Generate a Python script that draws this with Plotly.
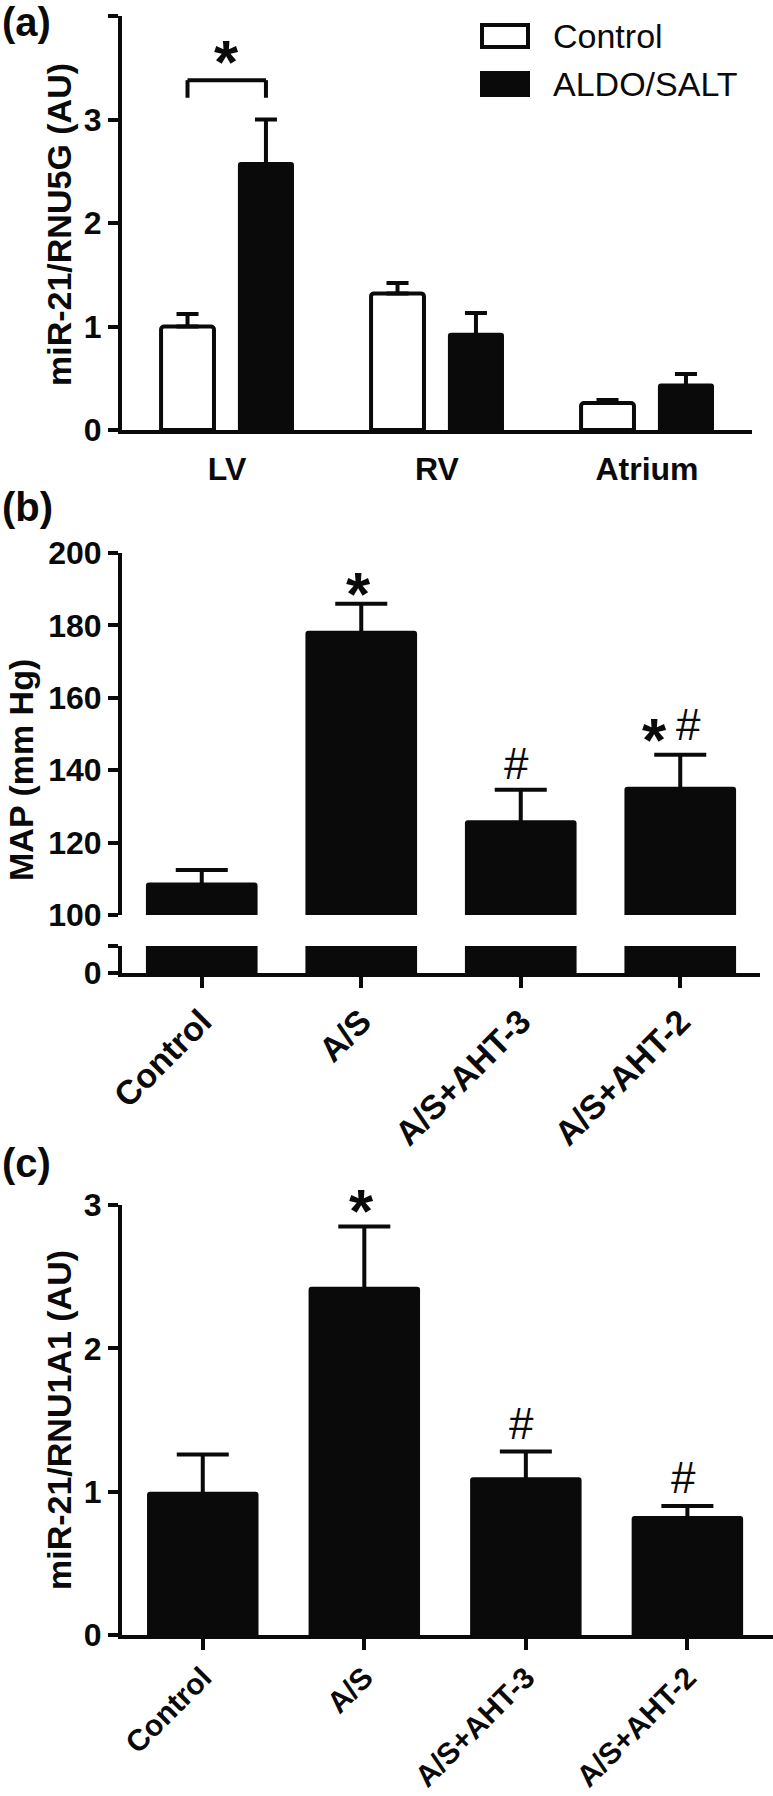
import plotly.graph_objects as go

# ---------------- data ----------------
a_categories = ["LV", "RV", "Atrium"]
a_control = [1.00, 1.32, 0.26]
a_control_err = [0.12, 0.10, 0.03]
a_aldo = [2.59, 0.94, 0.45]
a_aldo_err = [0.41, 0.19, 0.09]

b_categories = ["Control", "A/S", "A/S+AHT-3", "A/S+AHT-2"]
b_map = [109.0, 178.5, 126.2, 135.4]
b_map_err = [3.4, 7.5, 8.4, 8.9]
b_marks = ["", "*", "#", "*#"]

c_categories = ["Control", "A/S", "A/S+AHT-3", "A/S+AHT-2"]
c_mir = [1.00, 2.43, 1.10, 0.83]
c_mir_err = [0.26, 0.42, 0.18, 0.07]
c_marks = ["", "*", "#", "#"]

# ---------------- layout helpers ----------------
W, H = 773, 1796
FONT = "Liberation Sans, Arial, Helvetica, sans-serif"
BLACK = "#0a0a0a"
AXW = 4


def px(x):
    return x / W


def py(y):
    return 1 - y / H


tickfont = dict(family=FONT, size=32, color=BLACK, weight="bold")
catfont = dict(family=FONT, size=32, color=BLACK, weight="bold")
rotfont_b = dict(family=FONT, size=34, color=BLACK, weight="bold")
rotfont_c = dict(family=FONT, size=30, color=BLACK, weight="bold")

fig = go.Figure()

# ---------------- panel (a) ----------------
ctrl_off, ctrl_w = -0.314, 0.252
aldo_off, aldo_w = 0.052, 0.267
fig.add_trace(go.Bar(
    x=a_categories, y=a_control, name="Control", xaxis="x", yaxis="y",
    offset=ctrl_off, width=ctrl_w,
    marker=dict(color="white", line=dict(color=BLACK, width=4), cornerradius=3),
    error_y=dict(type="data", symmetric=False, array=a_control_err,
                 arrayminus=[0] * 3, color=BLACK, thickness=4, width=11),
))
fig.add_trace(go.Bar(
    x=a_categories, y=a_aldo, name="ALDO/SALT", xaxis="x", yaxis="y",
    offset=aldo_off, width=aldo_w,
    marker=dict(color=BLACK, line=dict(width=0), cornerradius=3),
    error_y=dict(type="data", symmetric=True, array=a_aldo_err,
                 color=BLACK, thickness=4, width=11),
))

# ---------------- panel (b) : broken axis ----------------
for xa, ya in (("x2", "y2"), ("x3", "y3")):
    fig.add_trace(go.Bar(
        x=b_categories, y=b_map, xaxis=xa, yaxis=ya, width=0.70,
        marker=dict(color=BLACK, line=dict(width=0), cornerradius=3),
        error_y=dict(type="data", symmetric=True, array=b_map_err,
                     color=BLACK, thickness=4, width=26),
        showlegend=False,
    ))

# ---------------- panel (c) ----------------
fig.add_trace(go.Bar(
    x=c_categories, y=c_mir, xaxis="x4", yaxis="y4", width=0.69,
    marker=dict(color=BLACK, line=dict(width=0), cornerradius=3),
    error_y=dict(type="data", symmetric=True, array=c_mir_err,
                 color=BLACK, thickness=4, width=26),
    showlegend=False,
))

yax_common = dict(showline=True, linewidth=AXW, linecolor=BLACK, ticks="outside",
                  ticklen=10, tickwidth=AXW, tickcolor=BLACK, tickfont=tickfont,
                  showgrid=False, zeroline=False, fixedrange=True)
xax_common = dict(showline=True, linewidth=AXW, linecolor=BLACK, showgrid=False,
                  zeroline=False, fixedrange=True)

fig.update_layout(
    width=W, height=H, margin=dict(l=0, r=0, t=0, b=0, autoexpand=False),
    paper_bgcolor="white", plot_bgcolor="white", showlegend=False,
    barmode="overlay",
    font=dict(family=FONT, color=BLACK),
    # (a)
    xaxis=dict(domain=[px(122), px(752)], anchor="y", range=[-0.5, 2.5],
               ticks="", ticklabelstandoff=8, tickfont=catfont, **xax_common),
    yaxis=dict(domain=[py(430), py(16)], anchor="x", range=[0, 4], dtick=1,
               **yax_common),
    # (b) upper
    xaxis2=dict(domain=[px(122), px(760)], anchor="y2", range=[-0.5, 3.5],
                showline=False, showticklabels=False, ticks="", showgrid=False,
                zeroline=False, fixedrange=True),
    yaxis2=dict(domain=[py(915), py(553)], anchor="x2", range=[100, 200],
                tickvals=[100, 120, 140, 160, 180, 200], **yax_common),
    # (b) lower
    xaxis3=dict(domain=[px(122), px(760)], anchor="y3", range=[-0.5, 3.5],
                ticks="outside", ticklen=11, tickwidth=AXW, tickcolor=BLACK,
                tickangle=-45, tickfont=rotfont_b, **xax_common),
    yaxis3=dict(domain=[py(973), py(946)], anchor="x3", range=[0, 8],
                tickvals=[0, 8], ticktext=["0", ""], **yax_common),
    # (c)
    xaxis4=dict(domain=[px(122), 1.0], anchor="y4", range=[-0.5, 3.53],
                ticks="outside", ticklen=11, tickwidth=AXW, tickcolor=BLACK,
                tickangle=-45, tickfont=rotfont_c, ticklabelstandoff=-2, **xax_common),
    yaxis4=dict(domain=[py(1635), py(1205)], anchor="x4", range=[0, 3], dtick=1,
                **yax_common),
)

ann = []
# panel labels
for lab, yc in (("(a)", 22), ("(b)", 507), ("(c)", 1163)):
    ann.append(dict(text=lab, x=0.0, y=py(yc), xref="paper", yref="paper",
                    xanchor="left", yanchor="middle", showarrow=False,
                    font=dict(family=FONT, size=40, color=BLACK, weight="bold")))
# y-axis titles
for lab, xc, yc in (("miR-21/RNU5G (AU)", 59, 225), ("MAP (mm Hg)", 21, 770),
                    ("miR-21/RNU1A1 (AU)", 59, 1420)):
    ann.append(dict(text=lab, x=px(xc), y=py(yc), xref="paper", yref="paper",
                    xanchor="center", yanchor="middle", textangle=-90,
                    showarrow=False,
                    font=dict(family=FONT, size=34, color=BLACK, weight="bold")))

STAR = dict(family=FONT, size=62, color=BLACK, weight="bold")
HASH = dict(family=FONT, size=44, color=BLACK)

# (a) bracket + star
cx0 = ctrl_off + ctrl_w / 2
cx1 = aldo_off + aldo_w / 2
yb0, yb1 = 3.21, 3.38
shapes = []
for (xa0, ya0, xa1, ya1) in ((cx0, yb0, cx0, yb1), (cx0, yb1, cx1, yb1), (cx1, yb1, cx1, yb0)):
    shapes.append(dict(type="line", xref="x", yref="y", x0=xa0, y0=ya0, x1=xa1, y1=ya1,
                       line=dict(color=BLACK, width=4)))
ann.append(dict(text="*", x=(cx0 + cx1) / 2, y=3.38, xref="x", yref="y",
                showarrow=False, yanchor="bottom", yshift=-18, font=STAR))


def add_marks(cats, vals, errs, marks, xr, yr, star_gap, hash_gap):
    for i, (c, v, e, m) in enumerate(zip(cats, vals, errs, marks)):
        if not m:
            continue
        top = v + e
        if m == "*":
            ann.append(dict(text="*", x=i, y=top, xref=xr, yref=yr, showarrow=False,
                            yanchor="bottom", xshift=-3, yshift=star_gap, font=STAR))
        elif m == "#":
            ann.append(dict(text="#", x=i, y=top, xref=xr, yref=yr, showarrow=False,
                            yanchor="bottom", xshift=-4, yshift=hash_gap, font=HASH))
        else:
            ann.append(dict(text="*", x=i, y=top, xref=xr, yref=yr, showarrow=False,
                            yanchor="bottom", xshift=-26, yshift=star_gap + 5, font=STAR))
            ann.append(dict(text="#", x=i, y=top, xref=xr, yref=yr, showarrow=False,
                            yanchor="bottom", xshift=8, yshift=hash_gap + 4, font=HASH))


add_marks(b_categories, b_map, b_map_err, b_marks, "x2", "y2", -26, 0)
add_marks(c_categories, c_mir, c_mir_err, c_marks, "x4", "y4", -20, 2)

# legend (a)
for (lab, fill, yc) in (("Control", "white", 36), ("ALDO/SALT", BLACK, 84)):
    shapes.append(dict(type="rect", xref="paper", yref="paper",
                       x0=px(482), x1=px(528), y0=py(yc - 11), y1=py(yc + 11),
                       fillcolor=fill, line=dict(color=BLACK, width=4)))
    ann.append(dict(text=lab, x=px(551), y=py(yc), xref="paper", yref="paper",
                    xanchor="left", yanchor="middle", showarrow=False,
                    font=dict(family=FONT, size=34, color=BLACK)))

fig.update_layout(annotations=ann, shapes=shapes)

fig.write_html("out.html", config={"displayModeBar": False},
               post_script="document.body.style.margin='0';")
